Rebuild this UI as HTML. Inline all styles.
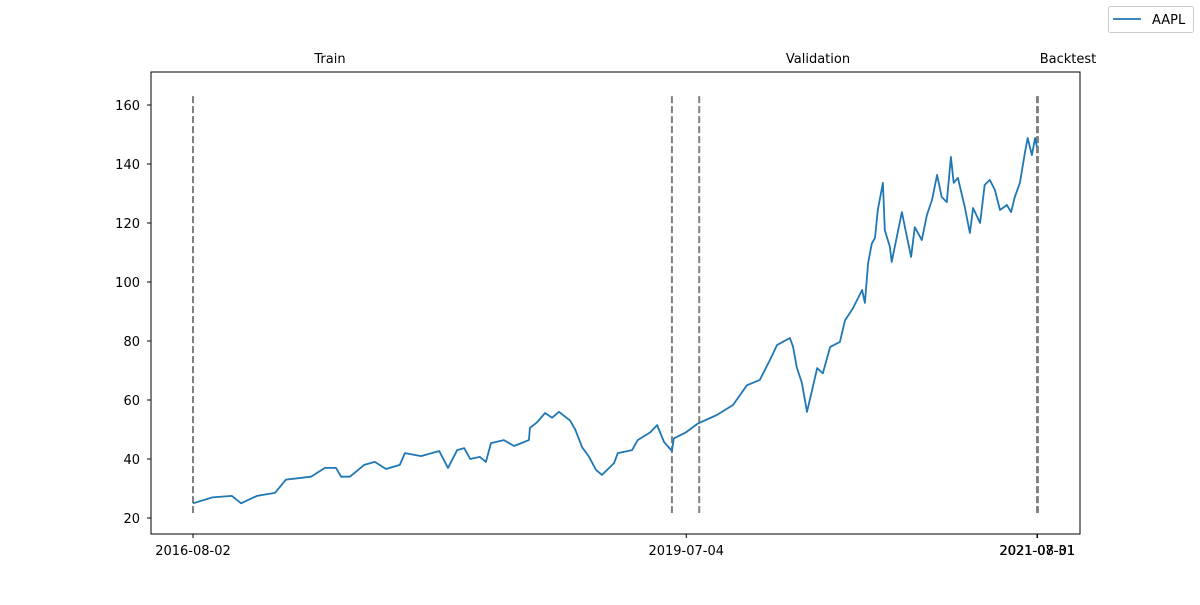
<!DOCTYPE html>
<html><head><meta charset="utf-8"><style>
body{margin:0;background:#fff;}
svg text{font-family:"DejaVu Sans","Liberation Sans",sans-serif;font-size:13px;fill:#000;}
</style></head><body>
<svg id="chart" width="1200" height="600" xmlns="http://www.w3.org/2000/svg">
<rect width="1200" height="600" fill="#fff"/>
<g id="splits"></g>
<g id="xticks"></g>
<g id="yticks"></g>
<path id="line" fill="none" stroke="#1f77b4" stroke-width="1.8" stroke-linejoin="round"/>
<rect x="151" y="72" width="929" height="462" fill="none" stroke="#000" stroke-width="1"/>
<text x="330" y="63" text-anchor="middle">Train</text>
<text x="818" y="63" text-anchor="middle">Validation</text>
<text x="1068" y="63" text-anchor="middle">Backtest</text>
<g>
<rect x="1108.5" y="6.5" width="85" height="26" rx="2" fill="#fff" stroke="#ccc"/>
<line x1="1113" y1="19" x2="1141" y2="19" stroke="#1f77b4" stroke-width="1.8"/>
<text x="1152" y="24">AAPL</text>
</g>
</svg>
<script>
const days=[0,42,84,104,138,177,201,255,285,309,320,339,370,393,417,447,458,493,532,551,571,586,599,620,633,644,672,694,726,728,744,761,776,791,815,826,841,856,871,884,910,918,949,961,988,1003,1018,1035,1039,1065,1091,1132,1167,1197,1225,1247,1262,1290,1297,1305,1316,1327,1338,1349,1361,1377,1398,1409,1426,1446,1452,1459,1467,1474,1480,1491,1495,1506,1510,1521,1532,1541,1552,1560,1575,1586,1597,1608,1618,1629,1638,1644,1653,1668,1679,1686,1701,1711,1722,1733,1744,1759,1768,1776,1787,1798,1804,1813,1820,1824];
const prices=[25,27,27.5,25,27.5,28.5,33,34,37,37,34,34,38,39,36.6,38,42,41,42.7,37,43,43.7,40,40.7,39,45.4,46.4,44.4,46.4,50.5,52.5,55.6,54,56,53,50,44,40.7,36.3,34.6,38.6,42,43,46.4,49,51.5,45.8,42.7,47,49,52,54.9,58.3,65,66.8,73.6,78.6,81,78,71,65.8,56,63.4,70.8,69,78,79.7,87,91,97.3,92.9,106.4,113,115,124.4,133.6,117.6,111.9,106.8,115.3,123.7,116.6,108.5,118.6,114.2,122.7,127.8,136.3,128.8,127.1,142.4,133.6,135.3,125.4,116.6,125.1,120,132.9,134.6,131.2,124.4,126.1,123.7,128.8,133.6,144,148.8,143,148.8,145.8];
const splitDays=[0,1035,1094,1824,1826];
const xTickDays=[0,1066,1824,1825];
const xTickLabels=["2016-08-02","2019-07-04","2021-07-31","2021-08-01"];
const yTicks=[20,40,60,80,100,120,140,160];
const NS="http://www.w3.org/2000/svg";
const X=d=>193+d*(844/1824);
const Y=v=>518-(v-20)*2.95;
function mk(tag,attrs,parent){const e=document.createElementNS(NS,tag);for(const k in attrs)e.setAttribute(k,attrs[k]);parent.appendChild(e);return e;}
const sp=document.getElementById('splits');
splitDays.forEach(d=>{const l=mk('line',{x1:X(d),x2:X(d),y1:Y(163),y2:Y(21.7),stroke:'#808080','stroke-width':2,'stroke-dasharray':'7,3'},sp);

});
const xt=document.getElementById('xticks');
xTickDays.forEach((d,i)=>{const x=X(d);mk('line',{x1:x,x2:x,y1:534,y2:538,stroke:'#000'},xt);
const t=mk('text',{x:x,y:555,'text-anchor':'middle'},xt);t.textContent=xTickLabels[i];

});
const yt=document.getElementById('yticks');
yTicks.forEach(v=>{const y=Y(v);mk('line',{x1:147,x2:151,y1:y,y2:y,stroke:'#000'},yt);
const t=mk('text',{x:140,y:y+5,'text-anchor':'end'},yt);t.textContent=v;

});
document.getElementById('line').setAttribute('d',days.map((d,i)=>(i?'L':'M')+X(d).toFixed(1)+','+Y(prices[i]).toFixed(1)).join(''));
</script>
</body></html>
